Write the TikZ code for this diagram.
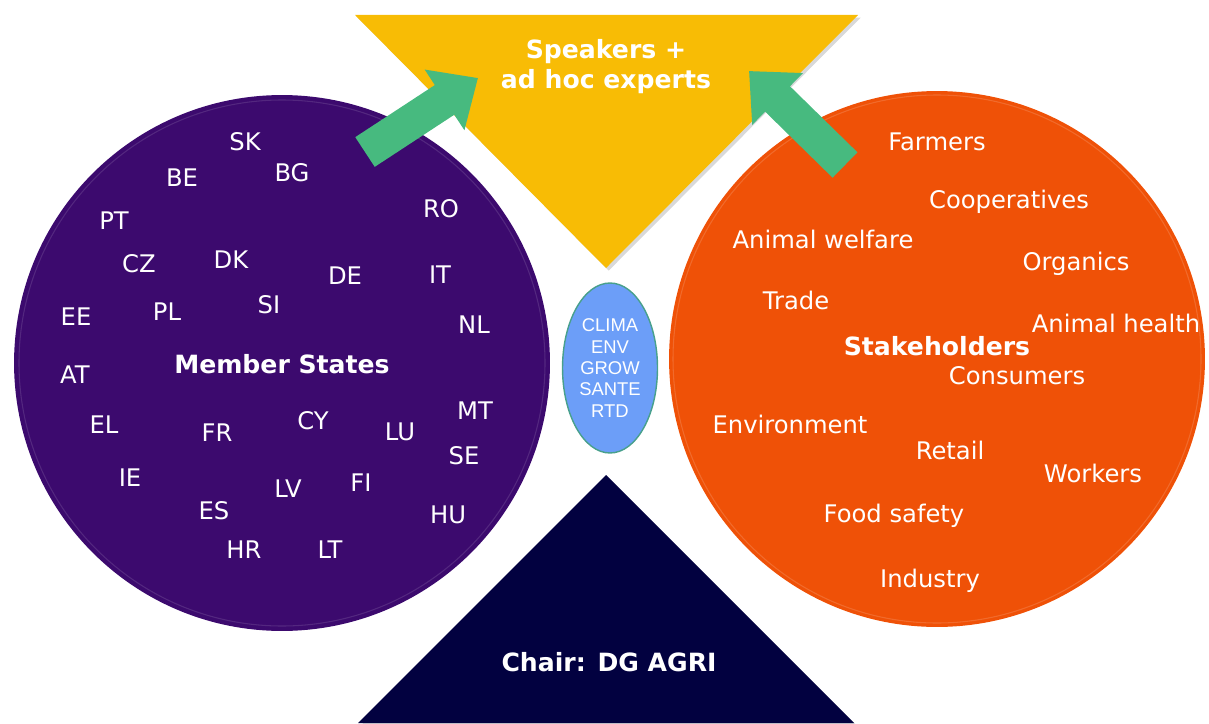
\documentclass[tikz,border=0pt]{standalone}
\usepackage{fontspec}
\setmainfont{DejaVu Sans}
\newfontfamily\dgfont{Liberation Sans}
\usetikzlibrary{shapes,arrows.meta,positioning,shadows}

\definecolor{msPurple}{RGB}{60,10,110}
\definecolor{shOrange}{RGB}{239,81,7}
\definecolor{spYellow}{RGB}{248,188,5}
\definecolor{chNavy}{RGB}{2,1,64}
\definecolor{arGreen}{RGB}{71,186,127}
\definecolor{dgBlue}{RGB}{108,158,248}
\definecolor{dgEdge}{RGB}{72,160,140}

\begin{document}
\begin{tikzpicture}[
        x=0.02cm, y=-0.02cm,
        >={Triangle[width=1.4cm, length=0.8cm]},
        every node/.style={font=\fontsize{13.8}{16}\selectfont, text=white},
        heading/.style={font=\fontsize{14.3}{17}\selectfont\bfseries, align=center},
        group/.style={circle, inner sep=0pt, minimum size=10.72cm},
        soft/.style={drop shadow={opacity=0.3, shadow xshift=1.5pt, shadow yshift=-1.5pt}}
        ]
        \useasboundingbox (0,0) rectangle (1209,723);

        % Two big circles
        \node (ms) [group, fill=msPurple] at (282,363) {};
        \node (sh) [group, fill=shOrange] at (937,359) {};
        \draw[white, opacity=0.12, line width=0.6pt] (ms.center) circle (263);
        \draw[white, opacity=0.15, line width=0.6pt] (sh.center) circle (264);

        % Triangles
        \fill[spYellow, soft] (355,15) -- (858,15) -- (606,268) -- cycle;
        \fill[chNavy, soft] (606,475) -- (854,723) -- (358,723) -- cycle;
        \node (speakers) [heading] at (606,67) {Speakers +\\ad hoc experts};
        \node (chair)    [heading] at (609,662) {Chair: DG AGRI};

        % Other DGs
        \node (dgs) [ellipse, fill=dgBlue, draw=dgEdge, line width=0.8pt,
                     minimum width=1.9cm, minimum height=3.4cm, inner sep=0pt,
                     align=center, font=\dgfont\fontsize{10.5}{12.2}\selectfont]
                     at (610,368) {CLIMA\\ENV\\GROW\\SANTE\\RTD};

        % Member states
        \node (mstitle) [heading] at (282,364) {Member States};
        \node (sk) at (245,142) {SK};
        \node (be) at (182,178) {BE};
        \node (bg) at (292,173) {BG};
        \node (pt) at (114,221) {PT};
        \node (ro) at (441,209) {RO};
        \node (cz) at (139,264) {CZ};
        \node (dk) at (231,260) {DK};
        \node (de) at (345,276) {DE};
        \node (it) at (440,275) {IT};
        \node (ee) at (76,317)  {EE};
        \node (pl) at (167,312) {PL};
        \node (si) at (269,305) {SI};
        \node (nl) at (474,325) {NL};
        \node (at) at (75,375)  {AT};
        \node (el) at (104,425) {EL};
        \node (fr) at (217,433) {FR};
        \node (cy) at (313,421) {CY};
        \node (lu) at (400,432) {LU};
        \node (mt) at (475,411) {MT};
        \node (se) at (464,456) {SE};
        \node (ie) at (130,478) {IE};
        \node (fi) at (361,483) {FI};
        \node (lv) at (288,489) {LV};
        \node (es) at (214,511) {ES};
        \node (hu) at (448,515) {HU};
        \node (hr) at (244,550) {HR};
        \node (lt) at (330,550) {LT};

        % Stakeholders
        \node (shtitle)  [heading] at (937,346) {Stakeholders};
        \node (farmers)  at (937,142)  {Farmers};
        \node (coops)    at (1009,202) {Cooperatives};
        \node (welfare)  at (823,239)  {Animal welfare};
        \node (organics) at (1076,264) {Organics};
        \node (trade)    at (796,300)  {Trade};
        \node (health)   at (1116,323) {Animal health};
        \node (consum)   at (1017,376) {Consumers};
        \node (environ)  at (790,424)  {Environment};
        \node (retail)   at (950,450)  {Retail};
        \node (workers)  at (1093,473) {Workers};
        \node (food)     at (894,516)  {Food safety};
        \node (industry) at (930,581)  {Industry};

        % Green arrows up to the speakers
        \coordinate (msout) at (365,152);
        \coordinate (msin)  at (478,78);
        \coordinate (shout) at (845,165);
        \coordinate (shin)  at (749,71);
        \draw[->, arGreen, line width=0.71cm] (msout) -- (msin);
        \draw[->, arGreen, line width=0.71cm] (shout) -- (shin);
      \end{tikzpicture}
\end{document}
